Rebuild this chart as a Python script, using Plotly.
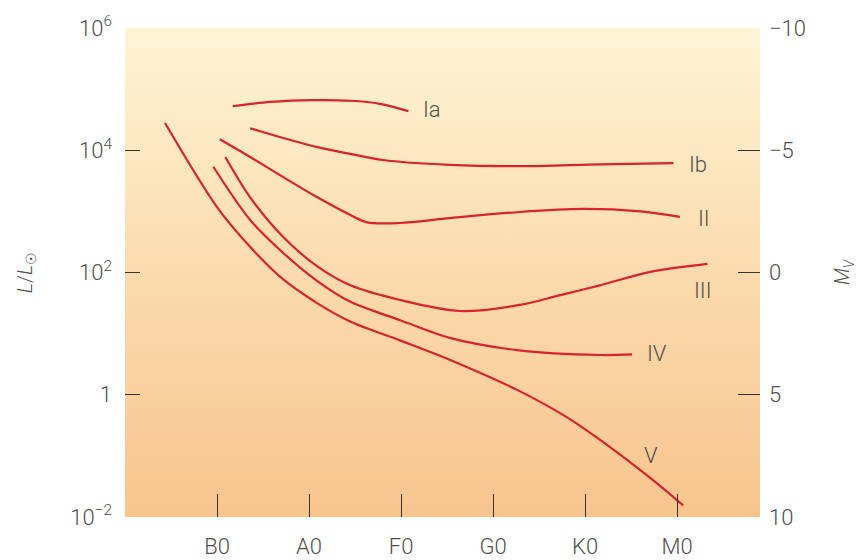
import plotly.graph_objects as go

# Spectral type positions (B0=1 ... M0=6)
spec_vals = [1, 2, 3, 4, 5, 6]
spec_text = ["B0", "A0", "F0", "G0", "K0", "M0"]

# Left axis: luminosity (log scale)
lum_vals = [1e-2, 1, 1e2, 1e4, 1e6]
lum_text = ["10<sup>−2</sup>", "1", "10<sup>2</sup>", "10<sup>4</sup>", "10<sup>6</sup>"]
lum_tick_marks = [1, 1e2, 1e4]

# Right axis: absolute magnitude
mag_vals = [-10, -5, 0, 5, 10]
mag_text = ["−10", "−5", "0", "5", "10"]
mag_tick_marks = [-5, 0, 5]

# Luminosity classes: spectral position and log10(L/Lsun)
Ia_x = [1.17, 1.58, 2.04, 2.45, 2.77, 3.08]
Ia_logL = [4.72, 4.79, 4.82, 4.81, 4.76, 4.64]

Ib_x = [1.36, 1.72, 2.09, 2.45, 2.80, 3.53, 4.29, 5.16, 5.96]
Ib_logL = [4.36, 4.20, 4.05, 3.94, 3.84, 3.76, 3.74, 3.77, 3.79]

II_x = [1.03, 1.36, 1.72, 2.09, 2.45, 2.63, 2.99, 3.53, 4.29, 4.98, 5.60, 6.03]
II_logL = [4.18, 3.89, 3.56, 3.23, 2.94, 2.82, 2.81, 2.89, 2.99, 3.04, 3.00, 2.91]

III_x = [1.09, 1.36, 1.72, 2.09, 2.45, 2.99, 3.64, 4.29, 4.73, 5.16, 5.71, 6.33]
III_logL = [3.89, 3.23, 2.58, 2.10, 1.79, 1.55, 1.37, 1.47, 1.63, 1.79, 2.01, 2.14]

IV_x = [0.96, 1.36, 1.72, 2.09, 2.45, 2.99, 3.53, 4.26, 5.16, 5.51]
IV_logL = [3.73, 2.86, 2.32, 1.86, 1.52, 1.22, 0.93, 0.73, 0.65, 0.66]

V_x = [0.435, 1.0, 1.359, 1.717, 2.087, 2.446, 2.989, 3.533, 4.261, 4.804, 5.163, 5.707, 6.065]
V_logL = [4.445, 3.07, 2.42, 1.89, 1.50, 1.20, 0.89, 0.57, 0.08, -0.37, -0.74, -1.36, -1.81]

class_names = ["Ia", "Ib", "II", "III", "IV", "V"]
label_x = [3.22, 6.11, 6.20, 6.16, 5.65, 5.62]
label_logL = [4.66, 3.76, 2.89, 1.71, 0.68, -0.99]

x_range = [0, 6.9]
logL_range = [-2, 6]
mag_range = [10, -10]

LINE = "#d9232d"
TXT = "#505050"
FONT = "Roboto, Liberation Sans, Arial, sans-serif"
WEIGHT = 300

fig = go.Figure()

# background gradient panel
fig.add_trace(go.Scatter(
    x=[x_range[0], x_range[1], x_range[1], x_range[0], x_range[0]],
    y=[10 ** logL_range[0], 10 ** logL_range[0], 10 ** logL_range[1], 10 ** logL_range[1], 10 ** logL_range[0]],
    fill="toself", mode="none", hoverinfo="skip", showlegend=False,
    fillgradient=dict(type="vertical",
                      colorscale=[[0, "#f8c48e"], [0.5, "#fbdbae"], [1, "#fef5d5"]]),
))

series = [(Ia_x, Ia_logL), (Ib_x, Ib_logL), (II_x, II_logL),
          (III_x, III_logL), (IV_x, IV_logL), (V_x, V_logL)]
for name, (xs, ls) in zip(class_names, series):
    fig.add_trace(go.Scatter(
        x=xs, y=[10 ** v for v in ls], mode="lines", name=name,
        line=dict(color=LINE, width=2.2, shape="spline", smoothing=0.9),
        showlegend=False, hoverinfo="skip",
    ))

for name, lx, ll in zip(class_names, label_x, label_logL):
    fig.add_annotation(x=lx, y=ll, xref="x", yref="y", text=name,
                       showarrow=False, xanchor="left", yanchor="middle",
                       font=dict(family=FONT, size=22, color=TXT, weight=WEIGHT))

# invisible traces to anchor overlay axes
fig.add_trace(go.Scatter(x=[None], y=[None], yaxis="y2", showlegend=False, hoverinfo="skip"))
fig.add_trace(go.Scatter(x=[None], y=[None], yaxis="y3", showlegend=False, hoverinfo="skip"))
fig.add_trace(go.Scatter(x=[None], y=[None], yaxis="y4", showlegend=False, hoverinfo="skip"))

tickfont = dict(family=FONT, size=22, color=TXT, weight=WEIGHT)

fig.update_layout(
    width=865, height=560,
    margin=dict(l=125, r=105, t=28, b=43),
    paper_bgcolor="white", plot_bgcolor="white",
    font=dict(family=FONT, color=TXT, size=22),
    xaxis=dict(range=x_range, tickvals=spec_vals, ticktext=spec_text,
               ticks="inside", ticklen=23, tickwidth=1.3, tickcolor="#333",
               showgrid=False, zeroline=False, showline=False, automargin=False,
               ticklabelstandoff=14, tickfont=tickfont),
    yaxis=dict(type="log", range=logL_range, tickvals=lum_vals, ticktext=lum_text,
               ticks="", showgrid=False, zeroline=False, showline=False, automargin=False,
               ticklabelstandoff=12, tickfont=tickfont,
               title=dict(text="<i>L</i>/<i>L</i><sub>☉</sub>", standoff=32,
                          font=dict(family=FONT, size=20, color=TXT, weight=WEIGHT))),
    yaxis2=dict(range=mag_range, overlaying="y", side="right", anchor="x",
                tickvals=mag_vals, ticktext=mag_text, ticks="", automargin=False,
                showgrid=False, zeroline=False, showline=False,
                ticklabelstandoff=8, tickfont=tickfont,
                title=dict(text="<i>M</i><sub><i>V</i></sub>", standoff=30,
                           font=dict(family=FONT, size=20, color=TXT, weight=WEIGHT))),
    yaxis3=dict(type="log", range=logL_range, overlaying="y", side="left", anchor="x",
                tickvals=lum_tick_marks, showticklabels=False, ticks="inside",
                ticklen=15, tickwidth=1.3, tickcolor="#333", automargin=False,
                showgrid=False, zeroline=False, showline=False),
    yaxis4=dict(range=mag_range, overlaying="y", side="right", anchor="x",
                tickvals=mag_tick_marks, showticklabels=False, ticks="inside",
                ticklen=22, tickwidth=1.3, tickcolor="#333", automargin=False,
                showgrid=False, zeroline=False, showline=False),
)

fig.write_html("out.html")
